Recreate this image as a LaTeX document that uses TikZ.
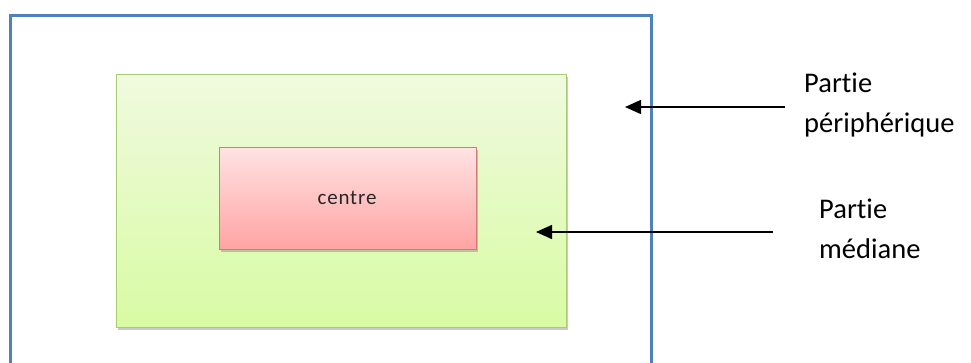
\documentclass[tikz,border=0pt]{standalone}
\usepackage{fontspec}
\setmainfont[RawFeature=-liga]{Carlito}
\newfontfamily\centrefont[LetterSpace=4,RawFeature=-liga]{Carlito}
\usetikzlibrary{shadows,arrows.meta}
\definecolor{outerblue}{HTML}{4F81BD}
\definecolor{greenborder}{HTML}{A8CC74}
\definecolor{greentop}{HTML}{F0FADF}
\definecolor{greenbot}{HTML}{D8FBA3}
\definecolor{pinkborder}{HTML}{D47A7A}
\definecolor{pinktop}{HTML}{FFE3E3}
\definecolor{pinkbot}{HTML}{FFA3A3}
\tikzset{
  box/.style={draw, line width=1pt, inner sep=0pt, anchor=north west,
    drop shadow={shadow xshift=1pt, shadow yshift=-2.5pt, opacity=0.35, fill=black!60}},
  pointer/.style={line width=1.5pt, -{Triangle[length=16pt,width=14pt]}},
  lbl/.style={anchor=base west, align=left, font=\fontsize{28.5}{40}\selectfont, inner sep=0pt}
}
\begin{document}
\begin{tikzpicture}[x=1pt,y=-1pt]
\useasboundingbox (0,0) rectangle (971,362);
% outer frame (bottom edge not visible)
\draw[outerblue, line width=3pt] (10,370) -- (10,15) -- (651,15) -- (651,370);
% median part
\node[box, draw=greenborder, top color=greentop, bottom color=greenbot,
  minimum width=450pt, minimum height=253pt] (green) at (116,74) {};
% centre
\node[box, draw=pinkborder, top color=pinktop, bottom color=pinkbot,
  minimum width=257pt, minimum height=102pt] (pink) at (219,147) {};
\node[anchor=base, inner sep=0pt, font=\fontsize{21}{24}\selectfont, text=black!85] (ctext) at (347,204) {\centrefont centre};
% labels
\node[lbl] (l1) at (804,132) {Partie\\périphérique};
\node[lbl] (l2) at (819,258) {Partie\\médiane};
% arrows
\coordinate (s1) at (785,107);
\coordinate (t1) at (625,107);
\coordinate (s2) at (773,232);
\coordinate (t2) at (536,232);
\draw[pointer] (s1) -- (t1);
\draw[pointer] (s2) -- (t2);
\end{tikzpicture}
\end{document}
